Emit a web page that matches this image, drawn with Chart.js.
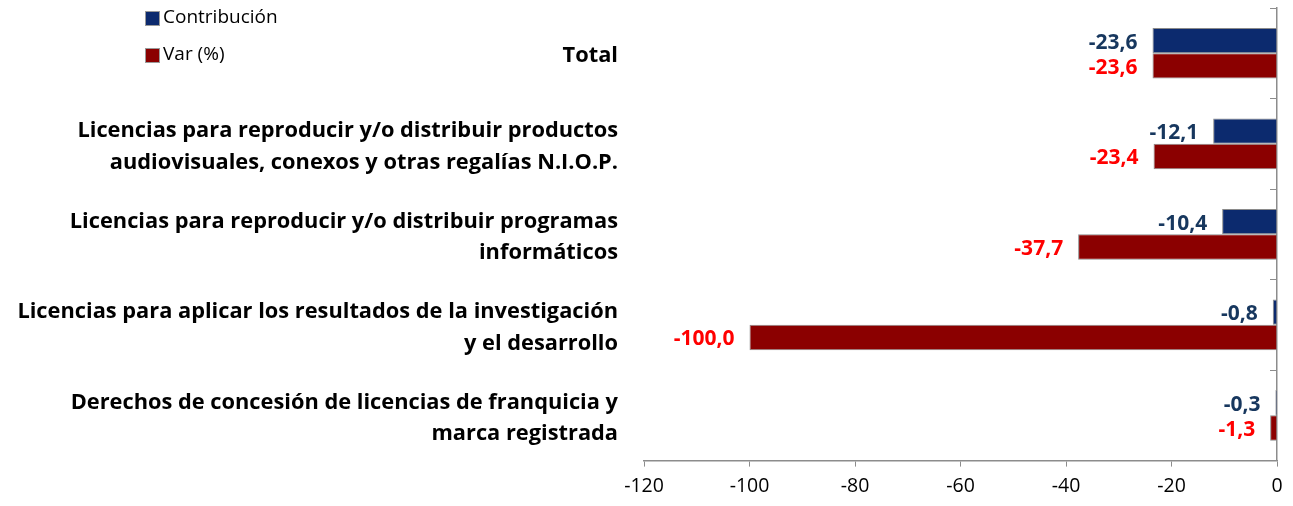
<!DOCTYPE html>
<html>
<head>
<meta charset="utf-8">
<script src="https://cdn.jsdelivr.net/npm/chart.js@4.4.1/dist/chart.umd.min.js"></script>
<style>
  html, body { margin: 0; padding: 0; background: #fff; }
  #wrap { width: 1293px; height: 506px; }
</style>
</head>
<body>
<div id="wrap"><canvas id="chart"></canvas></div>
<script>
const categories = [
  "Total",
  ["Licencias para reproducir y/o distribuir productos", "audiovisuales, conexos y otras regalías N.I.O.P."],
  ["Licencias para reproducir y/o distribuir programas", "informáticos"],
  ["Licencias para aplicar los resultados de la investigación", "y el desarrollo"],
  ["Derechos de concesión de licencias de franquicia y", "marca registrada"]
];
const contribucion = [-23.6, -12.1, -10.4, -0.8, -0.3];
const variacion = [-23.6, -23.4, -37.7, -100.0, -1.3];
const xTicks = { min: -120, max: 0, step: 20 };

const FONT = "'Open Sans', sans-serif";
const fmt = v => v.toFixed(1).replace(".", ",");

// etiquetas de valor a la izquierda de cada barra
const valueLabels = {
  id: "valueLabels",
  afterDatasetsDraw(chart) {
    const ctx = chart.ctx;
    ctx.save();
    ctx.font = "bold 21px " + FONT;
    ctx.textAlign = "right";
    ctx.textBaseline = "middle";
    chart.data.datasets.forEach((ds, i) => {
      chart.getDatasetMeta(i).data.forEach((bar, j) => {
        ctx.fillStyle = ds.labelColor;
        ctx.fillText(fmt(ds.data[j]), bar.x - 15, bar.y + 2);
      });
    });
    ctx.restore();
  }
};

// leyenda vertical arriba a la izquierda
const sideLegend = {
  id: "sideLegend",
  afterDraw(chart) {
    const ctx = chart.ctx;
    ctx.save();
    ctx.font = "19px " + FONT;
    ctx.textBaseline = "middle";
    chart.data.datasets.forEach((ds, i) => {
      const y = 18 + i * 37;
      ctx.fillStyle = ds.backgroundColor;
      ctx.fillRect(146, y - 6, 13, 13);
      ctx.strokeStyle = "#9a9a9a";
      ctx.lineWidth = 1;
      ctx.strokeRect(145.5, y - 6.5, 14, 14);
      ctx.fillStyle = "#000";
      ctx.fillText(ds.label, 163, y);
    });
    ctx.restore();
  }
};

const noPad = scale => { scale.paddingTop = 0; scale.paddingBottom = 0; };

new Chart(document.getElementById("chart"), {
  type: "bar",
  data: {
    labels: categories,
    datasets: [
      {
        label: "Contribución",
        data: contribucion,
        backgroundColor: "#0c2a6e",
        borderColor: "#8a8a8a",
        borderWidth: 1,
        labelColor: "#17375e",
        categoryPercentage: 0.56,
        barPercentage: 1
      },
      {
        label: "Var (%)",
        data: variacion,
        backgroundColor: "#8b0000",
        borderColor: "#8a8a8a",
        borderWidth: 1,
        labelColor: "#ff0000",
        categoryPercentage: 0.56,
        barPercentage: 1
      }
    ]
  },
  options: {
    indexAxis: "y",
    responsive: true,
    maintainAspectRatio: false,
    animation: false,
    layout: { padding: { top: 8, right: 16, left: 0, bottom: 0 } },
    plugins: {
      legend: { display: false },
      tooltip: { enabled: false }
    },
    scales: {
      x: {
        min: xTicks.min,
        max: xTicks.max,
        ticks: { stepSize: xTicks.step, color: "#000", font: { family: FONT, size: 19.5 }, padding: 8 },
        grid: { drawOnChartArea: false, drawTicks: true, tickLength: 6, tickColor: "#8c8c8c" },
        border: { color: "#8c8c8c", width: 1.5 }
      },
      y: {
        grid: { display: false, drawTicks: false },
        border: { display: false },
        ticks: {
          color: "#000",
          font: { family: FONT, size: 21.8, weight: "bold", lineHeight: 1.46 },
          padding: 26,
          labelOffset: 3
        },
        afterFit(scale) { scale.width = 644; noPad(scale); }
      },
      // eje vertical en x = 0 con marcas entre categorías
      y2: {
        type: "category",
        axis: "y",
        labels: categories,
        position: { x: 0 },
        offset: true,
        ticks: { display: false },
        grid: { offset: true, drawOnChartArea: false, drawTicks: true, tickLength: 6, tickColor: "#8c8c8c" },
        border: { color: "#8c8c8c", width: 1.5 },
        afterFit: noPad
      }
    }
  },
  plugins: [valueLabels, sideLegend]
});
</script>
</body>
</html>
